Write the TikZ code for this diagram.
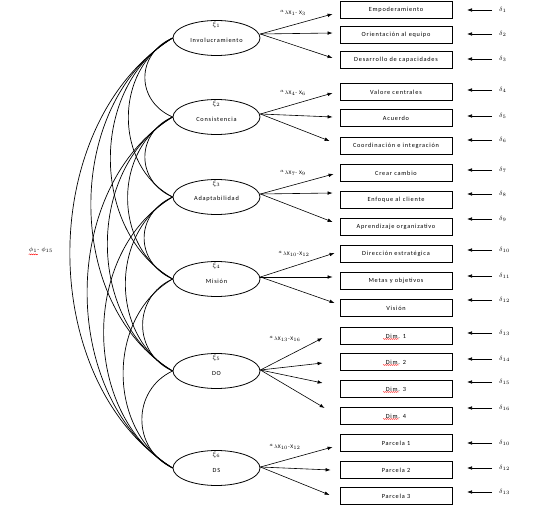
\documentclass[tikz,border=0pt]{standalone}
\usepackage{fontspec}
\setmainfont{Carlito}[LetterSpace=12]
\usetikzlibrary{arrows.meta,shapes.geometric,decorations.pathmorphing}
\begin{document}
\begin{tikzpicture}[x=1pt,y=-1pt,
  lat/.style={draw,ellipse,minimum width=87pt,minimum height=35pt,inner sep=0pt,line width=0.8pt},
  ind/.style={draw,rectangle,minimum width=112pt,minimum height=17pt,inner sep=0pt,line width=0.8pt,font=\fontsize{6.3}{7}\selectfont},
  lt/.style={font=\fontsize{6.3}{7}\selectfont,inner sep=0pt},
  xi/.style={font=\fontsize{7}{8}\selectfont,inner sep=0pt},
  lam/.style={font=\fontsize{5.5}{6}\selectfont,inner sep=0pt},
  del/.style={font=\fontsize{6}{7}\selectfont,inner sep=0pt,anchor=west},
  arr/.style={-{Latex[length=5pt,width=3.6pt]},line width=0.6pt},
  cov/.style={line width=0.7pt},
  wave/.style={red,line width=0.35pt,decorate,decoration={snake,amplitude=0.5pt,segment length=2pt}}]
\useasboundingbox (0,0) rectangle (554,510);
% latent variables
\foreach \n/\y/\t/\name in {1/38/1/Involucramiento,2/117/2/Consistencia,3/197/3/Adaptabilidad,4/279/4/Misión,5/371/5/DO,6/468/6/DS}{
  \node[lat] (e\n) at (216.5,\y) {};
  \node[xi] (x\n) at ([yshift=13pt]e\n.center) {$\xi_{\t}$};
  \node[lt] (n\n) at ([yshift=-2pt]e\n.center) {\name};
}
% indicators
\foreach \n/\y/\t in {1/10/Empoderamiento,2/35/Orientación  al  equipo,3/60/Desarrollo  de capacidades,
  4/92/Valore centrales,5/118/Acuerdo,6/146/Coordinación e integración,
  7/173/Crear  cambio,8/200/Enfoque al cliente,9/227/Aprendizaje  organizativo,
  10/254/Dirección estratégica,11/281/Metas  y objetivos,12/308/Visión,
  13/336/Dim. 1,14/362/Dim. 2,15/389/Dim. 3,16/416/Dim. 4,
  17/443/Parcela  1,18/470/Parcela  2,19/496/Parcela  3}{
  \node[ind] (b\n) at (396,\y) {\t};
}
\foreach \n in {13,14,15,16}{
  \draw[wave] ([shift={(-13pt,-3pt)}]b\n.center) -- ([shift={(3pt,-3pt)}]b\n.center);
}
% loadings
\foreach \e/\b/\dx/\dy/\s in {1/1/-7/-4/4,1/2/-7/2/4,1/3/-7/2/4,
  2/4/-7/-1/3,2/5/-7/1/3,2/6/-10/5/3,
  3/7/-6/-1/3,3/8/-7/7/3,3/9/-7/5/3,
  4/10/-5/1/2,4/11/-7/4/2,4/12/-5/5/2,
  5/13/-17/-2/1,5/14/-17/-1/1,5/15/-17/6/1,5/16/-15/8/1,
  6/17/-7/-4/1,6/18/-9/0/1,6/19/-10/1/1}{
  \draw[arr] ([yshift=\s pt]e\e.east) -- ([shift={(\dx pt,\dy pt)}]b\b.west);
}
% lambda labels
\node[lam] (l1) at (293,13) {$^{a}\lambda$X$_{1}$- X$_{3}$};
\node[lam] (l2) at (293,93) {$^{a}\lambda$X$_{4}$- X$_{6}$};
\node[lam] (l3) at (293,173) {$^{a}\lambda$X$_{7}$- X$_{9}$};
\node[lam] (l4) at (294,254) {$^{a}\lambda$X$_{10}$-X$_{12}$};
\node[lam] (l5) at (285,339) {$^{a}\lambda$X$_{13}$-X$_{16}$};
\node[lam] (l6) at (285,447) {$^{a}\lambda$X$_{10}$-X$_{12}$};
% errors
\foreach \n/\y/\t in {1/10/1,2/34/2,3/59/3,4/90/4,5/116/5,6/140/6,7/170/7,8/194/8,9/219/9,
  10/250/10,11/276/11,12/300/12,13/333/13,14/359/14,15/382/15,16/408/16,17/443/10,18/468/12,19/492/13}{
  \node[del] (d\n) at (499,\y) {$\delta_{\t}$};
  \draw[arr] ([xshift=-7pt]d\n.west) -- ([xshift=-32pt]d\n.west);
}
% covariances
\foreach \a/\b/\k/\d in {1/2/37/16,1/3/59/31,1/4/83/48,1/5/109/66,1/6/137/86,
  2/3/37/16,2/4/60/32,2/5/87/51,2/6/114/70,
  3/4/38/17,3/5/63/35,3/6/92/54,
  4/5/40/18,4/6/66/38,5/6/41/19}{
  \draw[cov] (e\a.west) .. controls +(-\k,\d) and +(-\k,-\d) .. (e\b.west);
}
\node[lam,font=\fontsize{6}{7}\selectfont] (phi) at (41,250) {$\phi_{1}$- $\phi_{15}$};
\draw[wave] ([shift={(0pt,-1.5pt)}]phi.south west) -- ([shift={(9pt,-1.5pt)}]phi.south west);
\end{tikzpicture}
\end{document}
